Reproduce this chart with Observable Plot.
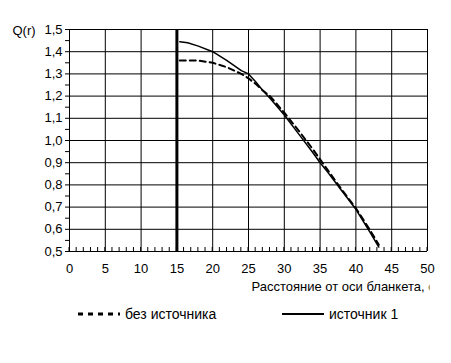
<!DOCTYPE html>
<html>
<head>
<meta charset="utf-8">
<script src="https://cdn.jsdelivr.net/npm/d3@7"></script>
<script src="https://cdn.jsdelivr.net/npm/@observablehq/plot@0.6"></script>
<style>
  html, body { margin: 0; padding: 0; background: #fff; }
  body { width: 451px; height: 363px; overflow: hidden; font-family: Arial, "Liberation Sans", sans-serif; }
  #legend { position: relative; height: 63px; }
  .item { position: absolute; top: 6px; display: flex; align-items: center; font-size: 14px; color: #000; }
</style>
</head>
<body>
<div id="chart"></div>
<div id="legend"></div>
<script>
// --- data ---
const seriesNames = ["без источника", "источник 1"];
const rNoSource = [15.4, 17, 18, 19, 20, 21, 22, 23, 24, 25, 26, 27, 28, 30, 32, 34, 35, 36, 38, 40, 42, 43.2];
const qNoSource = [1.36, 1.36, 1.36, 1.355, 1.35, 1.34, 1.33, 1.315, 1.30, 1.28, 1.255, 1.225, 1.20, 1.125, 1.045, 0.96, 0.915, 0.87, 0.78, 0.695, 0.595, 0.53];
const rSource1 = [15.4, 16.5, 18, 20, 21, 22, 24, 25, 26, 27, 28, 30, 32, 34, 35, 36, 38, 40, 42, 43.2];
const qSource1 = [1.445, 1.44, 1.425, 1.40, 1.38, 1.36, 1.315, 1.30, 1.265, 1.225, 1.19, 1.115, 1.03, 0.945, 0.90, 0.86, 0.775, 0.69, 0.585, 0.52];
const xMajor = [0, 5, 10, 15, 20, 25, 30, 35, 40, 45, 50];
const xMinor = d3.range(0, 51, 1);
const yMajor = [0.5, 0.6, 0.7, 0.8, 0.9, 1.0, 1.1, 1.2, 1.3, 1.4, 1.5];
const yMinor = d3.range(0, 21).map(i => +(0.5 + i * 0.05).toFixed(2));
const sourcePosition = [15];
const yLabel = "Q(r)";
const xLabel = "Расстояние от оси бланкета, см";

const noSource = rNoSource.map((r, i) => ({r, q: qNoSource[i]}));
const source1 = rSource1.map((r, i) => ({r, q: qSource1[i]}));
const fmt = d => d.toFixed(1).replace(".", ",");

// minor x ticks pointing up from the bottom axis, drawn through the scales
const minorXTicks = (index, scales, values, dims) => {
  const g = d3.create("svg:g");
  const y0 = scales.y(0.5);
  g.selectAll("line").data(xMinor).join("line")
    .attr("x1", d => scales.x(d)).attr("x2", d => scales.x(d))
    .attr("y1", y0).attr("y2", y0 - 4)
    .attr("stroke", "#000").attr("stroke-width", 1);
  return g.node();
};

const chart = Plot.plot({
  width: 451,
  height: 300,
  marginLeft: 69,
  marginRight: 24,
  marginTop: 29,
  marginBottom: 49,
  style: {fontFamily: 'Arial, "Liberation Sans", sans-serif', fontSize: "13px", color: "#000", background: "#fff"},
  x: {domain: [0, 50]},
  y: {domain: [0.5, 1.5]},
  marks: [
    Plot.ruleY(yMajor, {stroke: "#000", strokeWidth: 1}),
    Plot.ruleX(xMajor, {stroke: "#000", strokeWidth: 1}),
    Plot.ruleX(sourcePosition, {stroke: "#000", strokeWidth: 3}),
    minorXTicks,
    Plot.axisY(yMinor, {anchor: "left", tickSize: 4, tickPadding: 3, tickFormat: d => (Math.round(d * 100) % 10 === 0 ? fmt(d) : ""), label: null, fontSize: 13}),
    Plot.axisX(xMajor, {anchor: "bottom", tickSize: 0, tickPadding: 12, tickFormat: d => String(d), label: null, fontSize: 13}),
    Plot.line(noSource, {x: "r", y: "q", stroke: "#000", strokeWidth: 2, strokeDasharray: "6,4"}),
    Plot.line(source1, {x: "r", y: "q", stroke: "#000", strokeWidth: 1.5}),
    Plot.text([yLabel], {frameAnchor: "top-left", text: d => d, textAnchor: "start", dx: -57, dy: -4, fontSize: 13}),
    Plot.text([xLabel], {frameAnchor: "bottom-left", text: d => d, textAnchor: "start", dx: 182, dy: 39, fontSize: 13})
  ]
});
document.getElementById("chart").appendChild(chart);

// clip the axis title at the right, as in the original
const svg = d3.select(chart);
const clipId = "xlabel-clip";
svg.append("defs").append("clipPath").attr("id", clipId)
  .attr("clipPathUnits", "userSpaceOnUse")
  .append("rect").attr("x", 0).attr("y", 0).attr("width", 429.5).attr("height", 300);
const labelNode = svg.selectAll("text").filter(function () { return this.textContent === xLabel; }).node();
if (labelNode) {
  const markG = labelNode.parentNode;
  const wrap = svg.append("g").attr("clip-path", `url(#${clipId})`);
  wrap.node().appendChild(markG);
}

// legend
const legend = document.getElementById("legend");
const items = [
  {name: seriesNames[0], left: 78, dash: "5,5", width: 3},
  {name: seriesNames[1], left: 282, dash: null, width: 2}
];
for (const it of items) {
  const div = document.createElement("div");
  div.className = "item";
  div.style.left = it.left + "px";
  const s = d3.create("svg").attr("width", 43).attr("height", 16);
  s.append("line").attr("x1", 0).attr("x2", 42).attr("y1", 8).attr("y2", 8)
    .attr("stroke", "#000").attr("stroke-width", it.width)
    .attr("stroke-dasharray", it.dash);
  div.appendChild(s.node());
  const t = document.createElement("span");
  t.textContent = it.name;
  t.style.marginLeft = "4px";
  div.appendChild(t);
  legend.appendChild(div);
}
</script>
</body>
</html>
